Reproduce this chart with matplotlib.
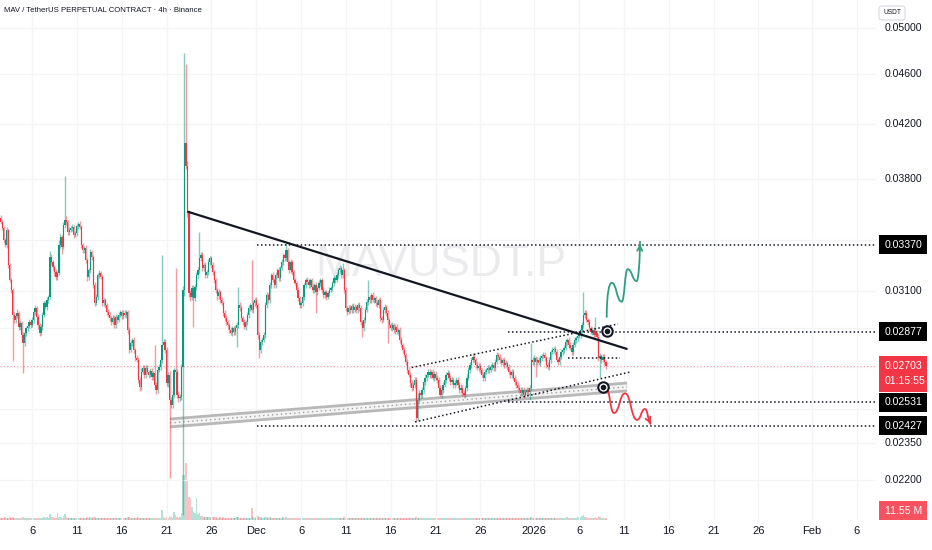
import numpy as np
import matplotlib
matplotlib.use("Agg")
import matplotlib.pyplot as plt
from matplotlib.patches import Rectangle, FancyBboxPatch, PathPatch
from matplotlib.path import Path

plt.rcParams['font.family'] = ['Liberation Sans', 'DejaVu Sans']

# ---------------- data ----------------
TITLE = "MAV / TetherUS PERPETUAL CONTRACT · 4h · Binance"
WATERMARK = "MAVUSDT.P"
START_DAY = 1.5            # days after 2025-11-01 00:00 of the first 4h candle
CANDLE_DAYS = 4 / 24
OPEN0 = 3540               # prices below in 1e-5 USDT

CLOSE = [
    3511,3474,3398,3368,3461,3248,3161,3104,2967,2940,
    2962,2978,2903,2924,2861,2819,2871,2897,2908,2929,
    2913,2940,2983,3005,2956,2913,2871,2903,2967,3032,
    3010,3048,3065,3295,3266,3236,3207,3178,3201,3368,
    3417,3355,3492,3524,3511,3448,3461,3474,3480,3429,
    3442,3486,3499,3480,3368,3337,3349,3278,3178,3219,
    3325,3295,3133,3032,3065,3190,3201,3178,3032,3048,
    3021,2983,2967,2951,2929,2951,2913,2956,2940,2967,
    2983,2962,2978,2967,2983,2887,2784,2819,2835,2784,
    2744,2734,2637,2603,2675,2695,2661,2695,2675,2661,
    2680,2651,2670,2613,2589,2685,2700,2734,2809,2825,
    2784,2623,2661,2543,2520,2566,2685,2675,2566,2552,
    2557,2700,3104,4060,3893,3569,3087,3065,3115,3059,
    3121,3190,3219,3290,3307,3231,3248,3190,3207,3266,
    3290,3248,3207,3161,3104,3070,3093,3048,3032,2978,
    2951,2929,2913,2887,2871,2897,2876,2897,2913,3021,
    3005,2951,2929,2903,2929,2967,3005,3021,2994,3032,
    3048,3021,2861,2784,2825,2835,2861,3021,3076,3048,
    3133,3190,3161,3133,3190,3219,3173,3231,3266,3307,
    3290,3337,3266,3219,3266,3207,3161,3144,3104,3059,
    3021,3032,3065,3133,3161,3150,3133,3161,3121,3104,
    3133,3093,3115,3144,3161,3104,3076,3093,3065,3087,
    3104,3115,3144,3173,3161,3190,3219,3231,3190,3219,
    3104,3005,2983,3005,2994,3016,2994,3010,2994,3021,
    3005,2929,2897,2940,2994,3037,3065,3048,3076,3048,
    3059,3032,3021,3048,2951,2940,2994,3010,2978,2940,
    2913,2897,2913,2887,2903,2876,2887,2835,2809,2784,
    2759,2724,2685,2661,2623,2599,2613,2637,2462,2543,
    2575,2566,2589,2627,2647,2661,2675,2661,2675,2647,
    2666,2647,2637,2599,2566,2589,2613,2637,2661,2670,
    2647,2627,2637,2613,2623,2637,2613,2589,2599,2575,
    2566,2599,2647,2685,2710,2734,2749,2734,2710,2695,
    2705,2685,2661,2647,2675,2685,2695,2685,2700,2710,
    2695,2724,2759,2749,2734,2719,2734,2710,2719,2700,
    2675,2661,2675,2647,2627,2613,2599,2589,2575,2589,
    2566,2580,2589,2580,2599,2734,2724,2744,2724,2734,
    2719,2744,2754,2759,2744,2710,2700,2734,2774,2784,
    2789,2774,2734,2724,2749,2774,2784,2794,2825,2835,
    2809,2794,2774,2809,2835,2845,2856,2861,2887,2913,
    2967,2978,2940,2929,2897,2876,2887,2861,2871,2851,
    2744,2754,2734,2749,2724,2703,
]

UP_WICK = [
    18,14,12,16,22,10,12,15,12,18, 15,20,12,16,12,14,18,12,15,16,
    12,16,20,14,12,15,12,16,18,14, 14,16,14,40,20,16,14,18,12,30,
    22,16,20,296,30,16,18,14,20,12, 16,18,14,20,12,16,14,18,12,15,
    22,14,12,16,20,14,18,16,12,14, 12,14,16,14,12,18,14,16,12,14,
    14,12,16,18,14,12,14,16,12,14, 12,14,16,12,18,14,12,16,14,12,
    14,16,12,139,14,16,12,14,498,16, 16,14,12,18,14,16,12,546,14,16,
    12,16,22,719,624,30,22,20,18,16, 18,20,16,158,22,18,16,20,14,18,
    16,14,18,16,14,12,16,14,18,12, 14,16,12,14,16,12,14,16,18,100,
    16,14,12,16,14,18,14,12,260,16, 14,16,12,14,18,16,14,18,16,14,
    16,14,18,12,16,14,16,12,18,14, 14,43,16,12,18,14,16,12,14,16,
    12,14,16,12,14,18,16,14,12,16, 14,16,12,18,14,12,16,14,12,14,
    16,14,12,16,14,18,14,16,12,41, 14,16,12,14,16,12,14,18,12,14,
    16,14,12,16,14,18,96,14,12,16, 14,12,16,14,18,12,14,16,12,14,
    12,14,16,12,14,16,12,14,16,12, 14,12,14,16,12,14,16,12,14,30,
    14,16,12,14,16,12,14,16,12,14, 16,14,12,16,14,12,16,14,12,16,
    12,14,16,12,14,16,12,14,16,12, 14,12,16,14,12,16,22,14,12,16,
    14,16,12,14,16,12,14,16,12,14, 12,14,16,12,14,16,12,14,16,12,
    14,12,16,14,12,16,14,12,16,14, 16,14,12,16,14,85,16,14,12,16,
    14,16,12,14,16,12,14,16,12,14, 12,14,16,12,14,16,12,14,16,12,
    16,14,12,16,14,12,16,14,12,16, 126,16,14,12,16,14,18,14,85,16,
    14,16,12,14,16,12,
]

DOWN_WICK = [
    12,14,18,12,14,16,12,14,238,18, 16,12,18,14,18,149,12,16,14,12,
    14,12,16,18,14,20,16,12,14,12, 12,14,16,12,18,14,20,16,14,12,
    14,40,12,16,14,18,14,12,16,14, 12,14,16,12,18,14,16,14,22,16,
    14,16,18,14,12,16,14,12,18,14, 16,14,12,18,14,12,16,14,18,12,
    12,16,14,12,16,18,14,12,16,14, 14,12,16,18,14,12,16,14,12,16,
    12,14,16,14,18,14,12,16,14,12, 14,16,18,335,16,14,12,16,14,18,
    14,16,637,30,22,26,22,20,18,156, 16,18,20,16,18,14,16,18,14,16,
    14,18,16,14,16,18,14,16,12,14, 16,14,18,14,12,16,14,16,97,14,
    14,16,14,12,18,14,16,14,12,16, 16,14,18,40,14,16,12,14,18,16,
    14,16,12,18,14,16,14,18,12,16, 16,14,12,16,14,18,14,12,16,14,
    14,16,18,14,16,12,14,16,18,14, 16,115,14,12,16,14,18,14,16,12,
    14,12,16,18,14,12,16,14,18,14, 16,14,18,12,14,16,14,12,16,14,
    14,16,47,14,16,12,14,18,14,12, 16,14,12,18,14,16,12,14,16,121,
    14,12,16,14,18,12,14,16,12,14, 12,16,14,12,18,14,12,16,18,14,
    12,14,16,12,14,16,12,14,16,12, 14,12,16,14,12,16,14,12,16,14,
    14,16,12,14,16,12,14,16,12,14, 12,14,16,12,14,16,12,14,16,12,
    16,14,12,16,14,12,16,14,12,16, 14,16,12,14,16,12,14,16,12,14,
    12,14,16,12,14,16,12,14,16,12, 14,12,16,14,37,12,14,16,73,14,
    12,14,16,12,14,16,12,14,16,12, 14,16,12,14,16,12,14,16,12,14,
    14,12,16,14,12,16,14,12,16,14, 14,16,12,14,16,12,14,16,12,14,
    16,98,14,12,16,14,
]

VOLUME_M = [
    14,12,10,16,12,11,15,13,18,12, 11,13,10,12,14,16,12,10,11,13,
    10,12,14,11,10,12,13,11,14,16, 12,18,14,35,20,16,14,12,41,15,
    16,14,22,35,20,14,12,11,13,10, 12,11,10,12,14,13,11,12,16,14,
    15,12,16,18,13,12,11,10,14,12, 10,12,11,13,10,11,12,10,13,11,
    10,11,12,10,11,16,18,12,11,13, 12,11,16,14,12,10,11,12,10,11,
    10,12,11,14,13,12,10,12,59,16, 14,18,12,24,20,14,47,30,16,14,
    18,40,265,265,335,235,135,130,76,50, 40,130,35,41,26,22,18,20,16,18,
    16,14,18,15,17,14,13,16,14,15, 13,12,14,12,13,11,12,14,18,20,
    14,13,12,11,12,14,13,12,70,18, 14,16,22,20,16,14,12,18,16,14,
    15,14,12,13,12,14,11,12,14,16, 14,16,12,11,13,12,11,12,13,12,
    11,12,10,13,12,11,10,12,11,10, 11,10,12,11,10,12,11,10,11,12,
    10,11,12,10,11,10,12,11,10,14, 16,14,12,11,10,11,10,12,11,10,
    12,11,13,14,11,10,13,11,10,11, 10,11,10,12,14,11,10,11,10,12,
    10,11,10,9,10,11,10,12,11,12, 11,12,13,12,14,13,12,11,18,14,
    12,11,10,11,10,9,10,11,10,9, 10,9,10,11,12,10,9,10,11,10,
    9,10,11,10,9,10,11,12,11,12, 13,12,14,13,12,11,13,10,11,10,
    9,10,11,10,9,10,9,10,11,10, 9,10,11,12,10,9,10,9,10,11,
    10,9,10,11,10,12,11,10,11,10, 9,10,11,10,12,18,14,12,11,12,
    10,11,10,9,10,11,10,12,13,12, 11,10,12,11,10,11,12,13,14,15,
    14,12,11,12,13,14,15,16,18,22, 30,20,16,14,13,14,12,13,16,14,
    22,16,14,12,13,11.55,
]

PRICE_TICKS = [0.022, 0.0235, 0.025, 0.027, 0.029, 0.031, 0.034, 0.038, 0.042, 0.046, 0.050]
DATE_TICKS = [5, 10, 15, 20, 25, 30, 35, 40, 45, 50, 55, 61, 66, 71, 76, 81, 86, 92, 97]
DATE_LABELS = ["6", "11", "16", "21", "26", "Dec", "6", "11", "16", "21", "26",
               "2026", "6", "11", "16", "21", "26", "Feb", "6"]

LEVELS = [0.03370, 0.02877, 0.02531, 0.02427]          # black labelled levels
LEVEL_START = [30.09, 58.11, 58.08, 30.09]             # day where each dotted level starts
LAST_PRICE = 0.02703
COUNTDOWN = "01:15:55"
SHORT_LEVEL = (0.02744, 64.77, 70.57)
TREND = ([22.43, 71.32], [0.03579, 0.02790])
CHAN_UP = ([47.34, 70.35], [0.02697, 0.02919])
CHAN_LOW = ([47.71, 71.88], [0.02443, 0.02677])
BAND_X = [20.39, 71.35]
BAND_TOP = [0.02456, 0.02622]
BAND_BOT = [0.02421, 0.02585]
ALERTS = ([69.09, 68.64], [0.02882, 0.02605])
GREEN_PATH = ([69.09, 69.64, 70.76, 71.43, 72.43, 72.80],
              [0.02953, 0.03146, 0.03040, 0.03225, 0.03156, 0.03394])
RED_PATH = ([69.01, 69.90, 71.13, 72.47, 73.36, 74.03],
            [0.02598, 0.02483, 0.02573, 0.02452, 0.02501, 0.02434])

# ---------------- figure ----------------
W, H = 932, 550
PANE_R, PANE_B = 876, 520
GREEN, RED, INK = '#089981', '#f23645', '#131722'
FS = 7.6

fig = plt.figure(figsize=(W / 100, H / 100), dpi=100)
pos = [0, (H - PANE_B) / H, PANE_R / W, PANE_B / H]
axv = fig.add_axes(pos)
ax = fig.add_axes(pos, sharex=axv)
ax.set_zorder(2)
ax.patch.set_visible(False)
axv.set_zorder(1)
for a in (ax, axv):
    for s in a.spines.values():
        s.set_visible(False)
    a.tick_params(left=False, bottom=False, labelleft=False, labelbottom=False)

ax.set_yscale('log')
ax.set_xlim(1.4275, 99.12)
ax.set_ylim(0.02044, 0.05261)
axv.set_ylim(0, 3060)
ax.yaxis.set_minor_locator(matplotlib.ticker.NullLocator())
ax.set_yticks([])
ax.set_xticks([])

close = np.array(CLOSE) / 1e5
n = len(close)
opn = np.concatenate([[OPEN0 / 1e5], close[:-1]])
high = np.maximum(opn, close) + np.array(UP_WICK) / 1e5
low = np.minimum(opn, close) - np.array(DOWN_WICK) / 1e5
t = START_DAY + np.arange(n) * CANDLE_DAYS
rising = close >= opn

# grid
for p in PRICE_TICKS:
    ax.axhline(p, color='#f3f4f6', lw=0.9, zorder=0)
for d in DATE_TICKS:
    ax.axvline(d, color='#f3f4f6', lw=0.9, zorder=0)

# watermark
ax.text(50.6, 0.03250, WATERMARK, fontsize=32, color='#ebebee', ha='center', va='center', zorder=0.5)

# volume
vcol = [(0.031, 0.6, 0.506, 0.3) if r else (0.949, 0.212, 0.271, 0.3) for r in rising]
axv.bar(t, VOLUME_M, width=1.2 * CANDLE_DAYS, color=vcol, linewidth=0)

# current price line
ax.axhline(LAST_PRICE, color=RED, alpha=0.5, lw=0.8, ls=(0, (1, 2)), zorder=1)

# candles
wcol = [(0.031, 0.6, 0.506, 0.5) if r else (0.949, 0.212, 0.271, 0.5) for r in rising]
ax.vlines(t, low, high, colors=wcol, linewidth=1.0, zorder=3)
body_lo = np.minimum(opn, close)
body_h = np.maximum(np.abs(close - opn), 0.00003)
ax.bar(t, body_h, bottom=body_lo, width=0.8 * CANDLE_DAYS,
       color=[GREEN if r else RED for r in rising], linewidth=0, zorder=4)

# gray support band
ax.fill_between(BAND_X, BAND_BOT, BAND_TOP, color='#f4f4f4', zorder=2)
ax.plot(BAND_X, BAND_TOP, color='#b8b8b8', lw=2.0, zorder=2.2, solid_capstyle='butt')
ax.plot(BAND_X, BAND_BOT, color='#b8b8b8', lw=2.0, zorder=2.2, solid_capstyle='butt')
ax.plot(BAND_X, np.sqrt(np.array(BAND_TOP) * np.array(BAND_BOT)), color='#a0a0a0',
        lw=1.0, ls=(0, (1, 2.2)), zorder=2.2)

# dotted levels
DOT = (0, (1, 1.6))
for p, d0 in zip(LEVELS, LEVEL_START):
    ax.hlines(p, d0, 99.12, colors=INK, linestyles=[DOT], lw=1.1, zorder=5)
ax.hlines(SHORT_LEVEL[0], SHORT_LEVEL[1], SHORT_LEVEL[2], colors=INK, linestyles=[DOT], lw=1.1, zorder=5)
ax.plot(*CHAN_UP, color=INK, lw=1.1, ls=DOT, zorder=5)
ax.plot(*CHAN_LOW, color=INK, lw=1.1, ls=DOT, zorder=5)

# trend line
ax.plot(*TREND, color=INK, lw=1.6, zorder=6, solid_capstyle='round')


def wave(xs, ys, first_vertical=False, last_vertical=False):
    verts = [(xs[0], ys[0])]
    codes = [Path.MOVETO]
    for k in range(len(xs) - 1):
        x0, y0, x1, y1 = xs[k], ys[k], xs[k + 1], ys[k + 1]
        xm = x0 + (x1 - x0) * 0.5
        c1 = (xm, y0)
        c2 = (xm, y1)
        if k == 0 and first_vertical:
            c1 = (x0, y0 + (y1 - y0) * 0.7)
        if k == len(xs) - 2 and last_vertical:
            c2 = (x1, y0 + (y1 - y0) * 0.5)
        verts += [c1, c2, (x1, y1)]
        codes += [Path.CURVE4] * 3
    return Path(verts, codes)


ax.add_patch(PathPatch(wave(*GREEN_PATH, first_vertical=True, last_vertical=True),
                       fc='none', ec='#2f9e80', lw=1.3, zorder=7))
ax.annotate('', xy=(GREEN_PATH[0][-1], GREEN_PATH[1][-1]),
            xytext=(GREEN_PATH[0][-1] - 0.02, GREEN_PATH[1][-1] * 0.985),
            arrowprops=dict(arrowstyle='->', color='#2f9e80', lw=1.3, mutation_scale=9), zorder=7)
ax.add_patch(PathPatch(wave(*RED_PATH), fc='none', ec=RED, lw=1.3, zorder=7))
ax.annotate('', xy=(RED_PATH[0][-1], RED_PATH[1][-1]),
            xytext=(RED_PATH[0][-1] - 0.25, RED_PATH[1][-1] * 1.008),
            arrowprops=dict(arrowstyle='->', color=RED, lw=1.3, mutation_scale=9), zorder=7)

# alert markers
ax.plot(*ALERTS, ls='none', marker='o', ms=7.5, mfc='white', mec=INK, mew=1.5, zorder=8)
ax.plot(*ALERTS, ls='none', marker='o', ms=3.0, color=INK, zorder=9)


# ---------------- right scale & labels ----------------
def ypx(p):
    return ax.transData.transform((ax.get_xlim()[0], p))[1]


def xpx(d):
    return ax.transData.transform((d, ax.get_ylim()[0]))[0]


LBL_X = 885 / W
box_centres = [ypx(p) for p in LEVELS] + [ypx(LAST_PRICE) - 7.5]
box_halves = [9.5] * len(LEVELS) + [18.0]
for p in PRICE_TICKS:
    y = ypx(p)
    # the scale hides tick labels that sit under a level label, as the reference does
    if any(abs(y - c) < h + 4 for c, h in zip(box_centres, box_halves)):
        continue
    fig.text(LBL_X, y / H, f"{p:.5f}", ha='left', va='center', fontsize=FS,
             color=INK, zorder=5)

for p in LEVELS:
    y = ypx(p)
    fig.add_artist(Rectangle((879 / W, (y - 9.5) / H), 48 / W, 19 / H, transform=fig.transFigure,
                             fc='#000000', ec='none', zorder=6))
    fig.text(LBL_X, y / H, f"{p:.5f}", ha='left', va='center', fontsize=FS, color='white', zorder=7)

y = ypx(LAST_PRICE)
fig.add_artist(Rectangle((879 / W, (y - 25.5) / H), 48 / W, 35.5 / H, transform=fig.transFigure,
                         fc=RED, ec='none', zorder=6))
fig.text(LBL_X, y / H, f"{LAST_PRICE:.5f}", ha='left', va='center', fontsize=FS, color='white', zorder=7)
fig.text(LBL_X, (y - 15) / H, COUNTDOWN, ha='left', va='center', fontsize=FS, color='white', zorder=7)

yv = max(axv.transData.transform((0, VOLUME_M[-1]))[1], (H - PANE_B) + 9.5)
fig.add_artist(Rectangle((879 / W, (yv - 9.5) / H), 48 / W, 19 / H, transform=fig.transFigure,
                         fc='#f7525f', ec='none', zorder=6))
fig.text(LBL_X, yv / H, f"{VOLUME_M[-1]:.2f} M", ha='left', va='center', fontsize=FS,
         color='white', zorder=7)

fig.add_artist(FancyBboxPatch((879 / W, (H - 20) / H), 26 / W, 14 / H, transform=fig.transFigure,
                              boxstyle='round,pad=0,rounding_size=0.004', fc='white', ec='#d6d9e0',
                              lw=0.8, zorder=6))
fig.text(892 / W, (H - 13) / H, "USDT", ha='center', va='center', fontsize=4.8, color=INK, zorder=7)

for d, lab in zip(DATE_TICKS, DATE_LABELS):
    fig.text(xpx(d) / W, (H - 531) / H, lab, ha='center', va='center', fontsize=FS + 0.4, color=INK)

fig.text(4 / W, (H - 10) / H, TITLE, ha='left', va='center', fontsize=5.6, color=INK)

fig.savefig('out.png', dpi=100, facecolor='white')
